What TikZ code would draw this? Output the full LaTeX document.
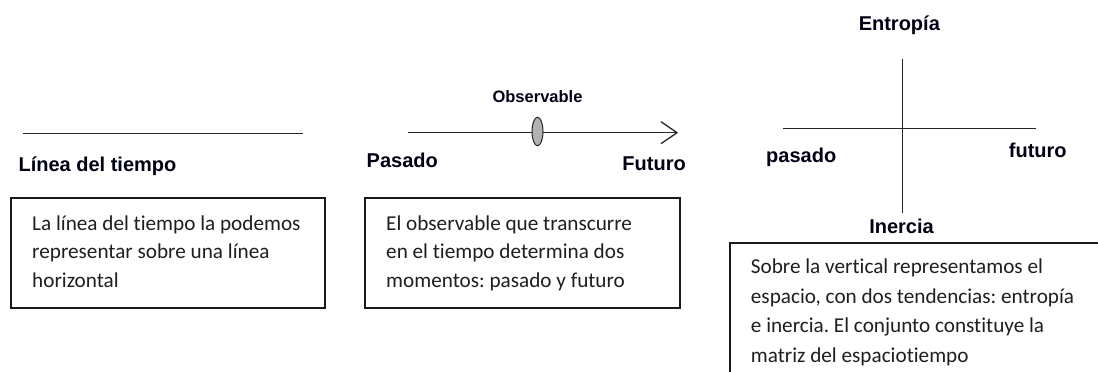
\documentclass[tikz,border=0pt]{standalone}
\usepackage{fontspec}
\usetikzlibrary{shapes.geometric}
\setmainfont{Carlito}[RawFeature=-liga]
\newfontfamily\labfont{Liberation Sans}
\frenchspacing
\begin{document}
\begin{tikzpicture}[x=1pt,y=-1pt,
  lab/.style={inner sep=0pt,anchor=base,font=\labfont\bfseries\fontsize{20}{22}\selectfont,text=black!92!blue},
  obs/.style={inner sep=0pt,anchor=base,font=\labfont\bfseries\fontsize{16.5}{19}\selectfont,text=black!92!blue},
  ln/.style={line width=1.3pt,black!85},
  boxst/.style={draw=black!90,line width=1.8pt,inner sep=0pt,anchor=north west},
  btext/.style={inner sep=0pt,anchor=base west,font=\frenchspacing\fontsize{21.2}{28.6}\selectfont,text=black!88}]
\useasboundingbox (0,0) rectangle (1098,372);
\clip (0,0) rectangle (1098,372);
\fill[white] (0,0) rectangle (1098,372);
% left panel
\coordinate (l1) at (23,133.3);
\coordinate (l2) at (303,133.3);
\draw[ln] (l1) -- (l2);
\node[lab] (linea) at (97.5,171.7) {Línea del tiempo};
\node[boxst,minimum width=314,minimum height=110] (box1) at (10,197) {};
\node[btext] (t1) at (32,230) {\parbox[t]{290pt}{La línea del tiempo la podemos\\representar sobre una línea\\horizontal}};
% middle panel
\coordinate (m1) at (408,132.7);
\coordinate (tip) at (677,132.7);
\draw[ln] (m1) -- (tip);
\draw[ln,line join=miter] (tip) ++(-16,-11) -- (tip) -- ++(-16,11);
\node[draw=black!85,line width=1pt,fill=black!30,ellipse,minimum width=11,minimum height=28.5,inner sep=0pt] (obsv) at (537.5,131.5) {};
\node[obs] (obslab) at (537.5,102.7) {Observable};
\node[lab,anchor=base west] (pasado) at (366.5,167.3) {Pasado};
\node[lab,anchor=base east] (futuro) at (686,170.7) {Futuro};
\node[boxst,minimum width=315,minimum height=110] (box2) at (364,197) {};
\node[btext] (t2) at (386,230) {\parbox[t]{290pt}{El observable que transcurre\\en el tiempo determina dos\\momentos: pasado y futuro}};
% right panel
\coordinate (v1) at (902.3,59.3);
\coordinate (v2) at (902.3,213.3);
\coordinate (h1) at (783.3,128.3);
\coordinate (h2) at (1036,128.3);
\draw[ln] (v1) -- (v2);
\draw[ln] (h1) -- (h2);
\node[lab] (entropia) at (899.3,30) {Entropía};
\node[lab] (inercia) at (901.5,233.3) {Inercia};
\node[lab,anchor=base west] (pasado2) at (766,162.3) {pasado};
\node[lab,anchor=base west] (futuro2) at (1008.7,157.7) {futuro};
\node[boxst,minimum width=400,minimum height=160] (box3) at (729.3,242) {};
\node[btext] (t3) at (750.7,273.3) {\parbox[t]{340pt}{\fontsize{21.2}{29.8}\selectfont Sobre la vertical representamos el\\espacio, con dos tendencias: entropía\\e inercia. El conjunto constituye la\\matriz del espaciotiempo}};
\end{tikzpicture}
\end{document}
